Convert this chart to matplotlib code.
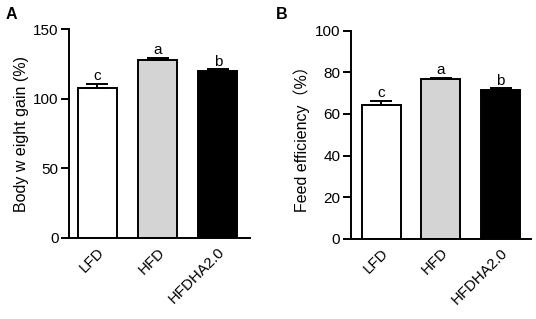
import matplotlib.pyplot as plt

plt.rcParams['font.family'] = ['Liberation Sans', 'Noto Sans CJK SC', 'DejaVu Sans']

groups = ['LFD', 'HFD', 'HFDHA2.0']
colors = ['white', '#d4d4d4', 'black']
letters = ['c', 'a', 'b']

gain = [107.8, 128.3, 120.4]
gain_err = [3.0, 1.2, 0.9]

feed = [64.3, 76.7, 71.7]
feed_err = [1.9, 0.6, 0.6]


def panel(ax, vals, errs, ylabel, ymax, step, xlim):
    x = range(len(groups))
    ax.bar(x, vals, width=0.65, color=colors, edgecolor='black', linewidth=1.4, zorder=2)
    ax.errorbar(x, vals, yerr=[[0] * len(errs), errs], fmt='none', ecolor='black',
                elinewidth=1.4, capsize=8, capthick=1.4, zorder=3)
    for i, (v, e) in enumerate(zip(vals, errs)):
        ax.annotate(letters[i], (i, v + e), xytext=(0, 0.5), textcoords='offset points',
                    ha='center', va='bottom', fontsize=11)
    ax.set_ylim(0, ymax)
    ax.set_yticks(range(0, ymax + 1, step))
    ax.set_xlim(*xlim)
    ax.set_xticks(list(x))
    ax.set_xticklabels(groups, rotation=45, ha='right', rotation_mode='anchor')
    ax.set_ylabel(ylabel, fontsize=11.5, labelpad=3)
    for s in ['top', 'right']:
        ax.spines[s].set_visible(False)
    for s in ['left', 'bottom']:
        ax.spines[s].set_linewidth(1.4)
    ax.tick_params(axis='y', width=1.4, length=6, labelsize=11, pad=1.5)
    ax.tick_params(axis='x', width=1.4, length=0, labelsize=10.8, pad=5)


fig = plt.figure(figsize=(5.36, 3.19), dpi=100)
ax1 = fig.add_axes([0.129, 0.254, 0.337, 0.654])
ax2 = fig.add_axes([0.654, 0.251, 0.336, 0.653])

panel(ax1, gain, gain_err, 'Body w eight gain (%)', 150, 50, (-0.47, 2.53))
panel(ax2, feed, feed_err, 'Feed efficiency（%）', 100, 20, (-0.51, 2.5))

fig.text(0.01, 0.94, 'A', fontsize=11.5, fontweight='bold')
fig.text(0.515, 0.94, 'B', fontsize=11.5, fontweight='bold')

fig.savefig('out.png', dpi=100)
